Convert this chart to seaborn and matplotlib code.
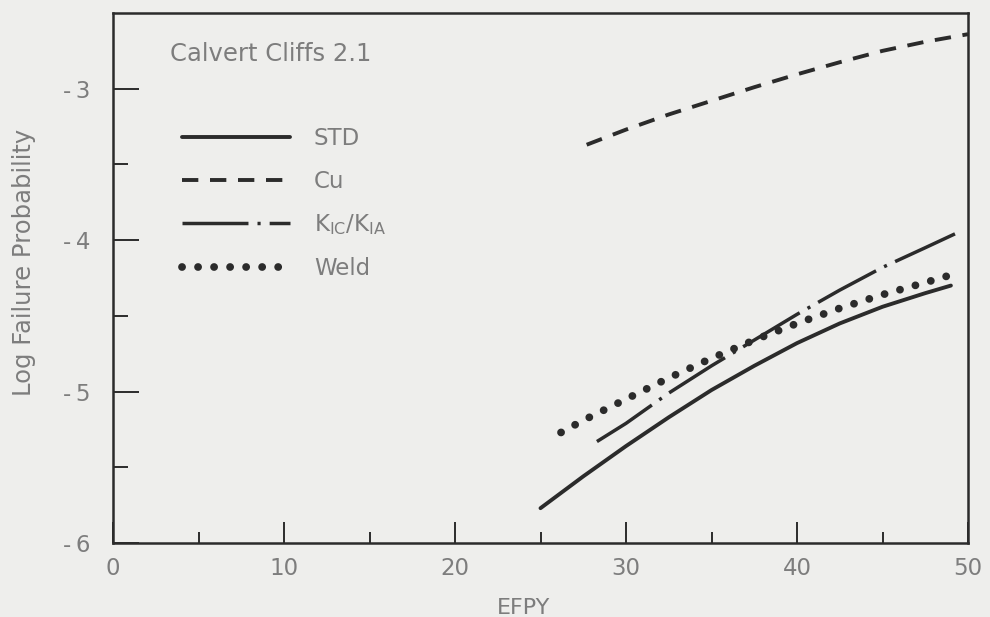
import matplotlib
matplotlib.use("Agg")
import matplotlib.pyplot as plt
import seaborn as sns
from matplotlib.ticker import FixedLocator

sns.set_theme(style="white")
plt.rcParams['font.family'] = ['DejaVu Sans']
plt.rcParams['mathtext.fontset'] = 'dejavusans'

BG = '#eeeeec'
INK = '#2b2b2b'
TXT = '#7d7d7d'

# Log failure probability vs effective full-power years for each case
std_years = [25, 27.5, 30, 32.5, 35, 37.5, 40, 42.5, 45, 47.5, 49]
std_logp = [-5.77, -5.56, -5.36, -5.17, -4.99, -4.83, -4.68, -4.55, -4.44, -4.35, -4.30]

cu_years = [27.7, 30, 32.5, 35, 37.5, 40, 42.5, 45, 47.5, 50]
cu_logp = [-3.37, -3.27, -3.17, -3.08, -2.99, -2.905, -2.825, -2.75, -2.69, -2.64]

kic_years = [28.3, 30, 32.5, 35, 37.5, 40, 42.5, 45, 47.5, 49.4]
kic_logp = [-5.33, -5.21, -5.01, -4.83, -4.66, -4.49, -4.33, -4.18, -4.05, -3.95]

weld_years = [26.2, 27.5, 30, 32.5, 35, 37.5, 40, 42.5, 45, 47.5, 49]
weld_logp = [-5.27, -5.19, -5.05, -4.91, -4.78, -4.66, -4.55, -4.45, -4.36, -4.28, -4.23]

series_labels = ['STD', 'Cu', r'K$_{\mathregular{IC}}$/K$_{\mathregular{IA}}$', 'Weld']
title_text = 'Calvert Cliffs 2.1'

x_ticks = [0, 10, 20, 30, 40, 50]
x_minor = [5, 15, 25, 35, 45]
y_ticks = [-6, -5, -4, -3]
y_minor = [-5.5, -4.5, -3.5]
y_tick_labels = ['-\u20096', '-\u20095', '-\u20094', '-\u20093']

fig = plt.figure(figsize=(9.9, 6.17), dpi=100, facecolor=BG)
ax = fig.add_axes([113 / 990, 74 / 617, 855 / 990, 530 / 617])
ax.set_facecolor(BG)

sns.lineplot(x=std_years, y=std_logp, ax=ax, color=INK, lw=2.8,
             label=series_labels[0])
sns.lineplot(x=cu_years, y=cu_logp, ax=ax, color=INK, lw=2.8,
             linestyle=(0, (4.2, 3.0)), label=series_labels[1])
sns.lineplot(x=kic_years, y=kic_logp, ax=ax, color=INK, lw=2.5,
             linestyle=(0, (19, 2.6, 0.9, 2.6)), label=series_labels[2])
sns.lineplot(x=weld_years, y=weld_logp, ax=ax, color=INK, lw=5.6,
             linestyle=(0, (0.01, 2.05)), dash_capstyle='round',
             label=series_labels[3])

ax.set_xlim(0, 50)
ax.set_ylim(-6, -2.5)

ax.xaxis.set_major_locator(FixedLocator(x_ticks))
ax.xaxis.set_minor_locator(FixedLocator(x_minor))
ax.yaxis.set_major_locator(FixedLocator(y_ticks))
ax.yaxis.set_minor_locator(FixedLocator(y_minor))
ax.set_xticklabels([str(t) for t in x_ticks])
ax.set_yticklabels(y_tick_labels)

for sp in ax.spines.values():
    sp.set_color(INK)
    sp.set_linewidth(1.8)
    sp.set_visible(True)

ax.tick_params(axis='both', which='both', direction='in', color=INK,
               bottom=True, left=True, top=False, right=False,
               labelcolor=TXT, labelsize=16.5)
ax.tick_params(axis='y', which='major', length=19, width=1.4, pad=16)
ax.tick_params(axis='y', which='minor', length=11, width=1.4)
ax.tick_params(axis='x', which='major', length=15, width=1.4, pad=10)
ax.tick_params(axis='x', which='minor', length=8, width=1.4)

ax.set_xlabel('EFPY', fontsize=16, color=TXT)
ax.xaxis.set_label_coords(0.48, -0.104)
ax.set_ylabel('Log Failure Probability', fontsize=17.5, color=TXT)
ax.yaxis.set_label_coords(-0.09, 0.53)

fig.text(170 / 990, 1 - 54 / 617, title_text, fontsize=17.5, color=TXT,
         ha='left', va='center')

leg = ax.legend(loc='upper left', bbox_to_anchor=(182 / 990, 1 - 127 / 617),
                bbox_transform=fig.transFigure, frameon=False, fontsize=16.5,
                handlelength=4.7, handletextpad=1.05, labelspacing=0.86,
                borderpad=0, borderaxespad=0)
for t in leg.get_texts():
    t.set_color(TXT)

fig.savefig('out.png', dpi=100, facecolor=BG)
